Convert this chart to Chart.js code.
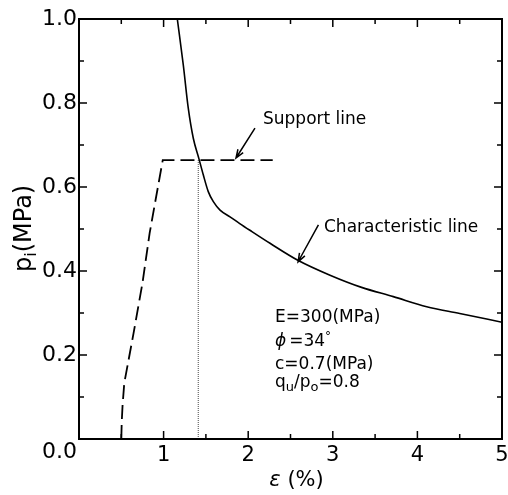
<!DOCTYPE html>
<html>
<head>
<meta charset="utf-8">
<script src="https://cdn.jsdelivr.net/npm/chart.js@4"></script>
<style>
  body { margin: 0; background: #fff; }
  #wrap { width: 508px; height: 495px; }
</style>
</head>
<body>
<div id="wrap"><canvas id="chart" width="508" height="495"></canvas></div>
<script>
// characteristic line (strain %, pressure MPa)
const charX = [1.162, 1.233, 1.292, 1.351, 1.418, 1.469, 1.528, 1.588, 1.667, 1.785, 1.90, 2.02, 2.258, 2.592, 2.967, 3.34, 3.715, 4.11, 4.50, 5.0];
const charY = [1.0, 0.890, 0.787, 0.716, 0.667, 0.629, 0.589, 0.565, 0.545, 0.529, 0.513, 0.497, 0.466, 0.425, 0.390, 0.361, 0.339, 0.315, 0.299, 0.278];

// support line
const suppX = [0.50, 0.505, 0.515, 0.535, 0.645, 0.75, 0.835, 0.905, 0.99, 2.29];
const suppY = [0.0, 0.04, 0.08, 0.133, 0.252, 0.371, 0.49, 0.569, 0.664, 0.664];

// equilibrium strain marker
const eqX = [1.41, 1.41];
const eqY = [0.0, 0.664];

// ticks
const xTickValues = [0, 1, 2, 3, 4, 5];
const xTickLabels = ['', '1', '2', '3', '4', '5'];
const xMinor = [0.5, 1.5, 2.5, 3.5, 4.5];
const yTickValues = [0, 0.2, 0.4, 0.6, 0.8, 1.0];
const yTickLabels = [['', '0.0'], '0.2', '0.4', '0.6', '0.8', '1.0'];
const yMinor = [0.1, 0.3, 0.5, 0.7, 0.9];

const toPts = (xs, ys) => xs.map((x, i) => ({ x: x, y: ys[i] }));
const FONT = '"DejaVu Sans", sans-serif';

// draw a run of text pieces, each with its own font and vertical shift
function drawRich(ctx, parts, x, y) {
    let cx = x;
    parts.forEach(p => {
        ctx.font = p.font;
        ctx.fillText(p.t, cx, y + (p.dy || 0));
        cx += ctx.measureText(p.t).width + (p.gap || 0);
    });
}

function arrow(ctx, x1, y1, x2, y2) {
    const a = Math.atan2(y2 - y1, x2 - x1);
    const h = 9, s = 0.35;
    ctx.beginPath();
    ctx.moveTo(x1, y1);
    ctx.lineTo(x2, y2);
    ctx.moveTo(x2 - h * Math.cos(a - s), y2 - h * Math.sin(a - s));
    ctx.lineTo(x2, y2);
    ctx.lineTo(x2 - h * Math.cos(a + s), y2 - h * Math.sin(a + s));
    ctx.stroke();
}

const decorations = {
    id: 'decorations',
    afterDraw(chart) {
        const ctx = chart.ctx;
        const xs = chart.scales.x, ys = chart.scales.y;
        const a = chart.chartArea;
        const px = v => xs.getPixelForValue(v);
        const py = v => ys.getPixelForValue(v);
        ctx.save();
        ctx.strokeStyle = '#000';
        ctx.fillStyle = '#000';

        // frame
        ctx.lineWidth = 2;
        ctx.strokeRect(a.left, a.top, a.right - a.left, a.bottom - a.top);

        // inward ticks on all four sides
        ctx.lineWidth = 1.5;
        ctx.beginPath();
        const xt = (v, len) => {
            ctx.moveTo(px(v), a.bottom); ctx.lineTo(px(v), a.bottom - len);
            ctx.moveTo(px(v), a.top); ctx.lineTo(px(v), a.top + len);
        };
        const yt = (v, len) => {
            ctx.moveTo(a.left, py(v)); ctx.lineTo(a.left + len, py(v));
            ctx.moveTo(a.right, py(v)); ctx.lineTo(a.right - len, py(v));
        };
        xTickValues.forEach(v => xt(v, 8));
        xMinor.forEach(v => xt(v, 5));
        yTickValues.forEach(v => yt(v, 8));
        yMinor.forEach(v => yt(v, 5));
        ctx.stroke();

        // axis titles
        ctx.textBaseline = 'alphabetic';
        ctx.textAlign = 'left';
        ctx.save();
        ctx.translate(31, 272);
        ctx.rotate(-Math.PI / 2);
        drawRich(ctx, [
            { t: 'p', font: '24px ' + FONT },
            { t: 'i', font: '16px ' + FONT, dy: 5 },
            { t: '(MPa)', font: '24px ' + FONT }
        ], 0, 0);
        ctx.restore();
        drawRich(ctx, [
            { t: 'ε', font: 'italic 21px ' + FONT },
            { t: ' (%)', font: '21px ' + FONT }
        ], px(2.25), 486);

        // labels and arrows
        ctx.lineWidth = 1.5;
        ctx.font = '17px ' + FONT;
        ctx.fillText('Support line', px(2.175), py(0.75));
        ctx.fillText('Characteristic line', px(2.896), py(0.493));
        arrow(ctx, px(2.08), py(0.74), px(1.856), py(0.669));
        arrow(ctx, px(2.83), py(0.51), px(2.59), py(0.422));

        // parameter block
        const bx = px(2.317);
        ctx.font = '17px ' + FONT;
        ctx.fillText('E=300(MPa)', bx, py(0.279));
        drawRich(ctx, [
            { t: 'ϕ', font: 'italic 17px ' + FONT, gap: 3 },
            { t: '=34', font: '17px ' + FONT },
            { t: '°', font: '12px ' + FONT, dy: -6 }
        ], bx, py(0.221));
        ctx.font = '17px ' + FONT;
        ctx.fillText('c=0.7(MPa)', bx, py(0.167));
        drawRich(ctx, [
            { t: 'q', font: '17px ' + FONT },
            { t: 'u', font: '13px ' + FONT, dy: 4 },
            { t: '/p', font: '17px ' + FONT },
            { t: 'o', font: '13px ' + FONT, dy: 4 },
            { t: '=0.8', font: '17px ' + FONT }
        ], bx, py(0.124));
        ctx.restore();
    }
};

const ctx = document.getElementById('chart').getContext('2d');
new Chart(ctx, {
    type: 'scatter',
    data: {
        datasets: [
            {
                label: 'Characteristic line',
                data: toPts(charX, charY),
                showLine: true,
                borderColor: '#000',
                borderWidth: 1.6,
                pointRadius: 0,
                cubicInterpolationMode: 'monotone'
            },
            {
                label: 'Support line',
                data: toPts(suppX, suppY),
                showLine: true,
                borderColor: '#000',
                borderWidth: 1.8,
                borderDash: [14, 6],
                pointRadius: 0,
                tension: 0
            },
            {
                label: 'Equilibrium',
                data: toPts(eqX, eqY),
                showLine: true,
                borderColor: '#666',
                borderWidth: 1.2,
                borderDash: [1, 1],
                pointRadius: 0
            }
        ]
    },
    options: {
        responsive: false,
        animation: false,
        layout: { padding: { top: 19, right: 0, left: 0, bottom: 0 } },
        plugins: {
            legend: { display: false },
            tooltip: { enabled: false }
        },
        scales: {
            x: {
                type: 'linear',
                min: 0,
                max: 5,
                afterBuildTicks: s => { s.ticks = xTickValues.map(v => ({ value: v })); },
                afterFit: s => { s.height = 56; s.paddingRight = 6; },
                grid: { display: false, drawTicks: false },
                border: { display: false },
                ticks: {
                    padding: 4,
                    color: '#000',
                    maxRotation: 0,
                    font: { family: 'DejaVu Sans', size: 21 },
                    callback: (v, i) => xTickLabels[i]
                }
            },
            y: {
                type: 'linear',
                min: 0,
                max: 1,
                afterBuildTicks: s => { s.ticks = yTickValues.map(v => ({ value: v })); },
                afterFit: s => { s.width = 79; },
                grid: { display: false, drawTicks: false },
                border: { display: false },
                ticks: {
                    padding: 2,
                    color: '#000',
                    font: { family: 'DejaVu Sans', size: 22 },
                    callback: (v, i) => yTickLabels[i]
                }
            }
        }
    },
    plugins: [decorations]
});
</script>
</body>
</html>
